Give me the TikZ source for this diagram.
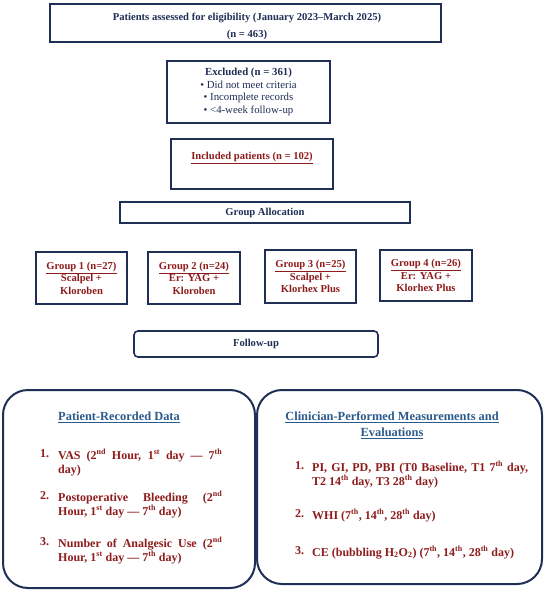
\documentclass[tikz,border=0pt]{standalone}
\usepackage{fontspec}
\setmainfont{Liberation Serif}
\usepackage{xcolor}
\usepackage{tikz}
\definecolor{cnavy}{HTML}{1F2F55}
\definecolor{cred}{HTML}{8E1C1C}
\definecolor{cblue}{HTML}{2B5B8C}

\begin{document}
\hyphenpenalty=10000
\begin{tikzpicture}[x=1pt, y=-1pt,
  box/.style={draw=cnavy, line width=1.6pt, fill=white, align=center, inner sep=0pt},
  panel/.style={box, line width=2pt, rounded corners=25pt},
  hd/.style={font=\fontsize{10.6}{17}\selectfont\bfseries, text=cnavy, align=center},
  grp/.style={font=\fontsize{10.6}{12.5}\selectfont\bfseries, text=cred, align=center},
  sub/.style={font=\fontsize{12.4}{16}\selectfont\bfseries, text=cblue, align=center},
  num/.style={font=\fontsize{12}{14}\selectfont\bfseries, text=cred, anchor=north west, inner sep=0pt},
  itm/.style={font=\fontsize{12}{14}\selectfont\bfseries, text=cred, anchor=north west, align=justify, inner sep=0pt}]
  \useasboundingbox (0,0) rectangle (550,593);
  % flow boxes, top to bottom
  \node[box, minimum width=391, minimum height=38] (assess) at (245.5,23) {};
  \node[hd] (assesstxt) at (247,26.5) {Patients assessed for eligibility (January 2023--March 2025)\\(n = 463)};
  \node[box, minimum width=163, minimum height=62, font=\fontsize{10.8}{12.7}\selectfont, text=cnavy] (excl) at (248.5,92) {\textbf{Excluded (n = 361)}\\• Did not meet criteria\\• Incomplete records\\• <4-week follow-up};
  \node[box, minimum width=162, minimum height=50] (incl) at (252,164) {};
  \node[font=\fontsize{10.6}{12}\selectfont\bfseries, text=cred] (incltxt) at (252,158) {\underline{Included patients (n = 102)}};
  \node[box, hd, minimum width=290, minimum height=21] (alloc) at (265,212.5) {Group Allocation};
  % groups
  \node[box, grp, minimum width=91, minimum height=52] (g1) at (81.5,278) {\underline{Group 1 (n=27)}\\Scalpel +\\Kloroben};
  \node[box, grp, minimum width=92, minimum height=52] (g2) at (194,278) {\underline{Group 2 (n=24)}\\Er: YAG +\\Kloroben};
  \node[box, grp, minimum width=91, minimum height=53] (g3) at (310.5,276.5) {\underline{Group 3 (n=25)}\\Scalpel +\\Klorhex Plus};
  \node[box, grp, minimum width=92, minimum height=51] (g4) at (426,275.5) {\underline{Group 4 (n=26)}\\Er: YAG +\\Klorhex Plus};
  \node[box, hd, rounded corners=4pt, minimum width=244, minimum height=26] (follow) at (256,344) {Follow-up};
  % outcome panels
  \node[panel, minimum width=252, minimum height=198] (patient) at (129,489) {};
  \node[panel, minimum width=285, minimum height=194] (clinic) at (399.5,487) {};
  \node[sub] (pathd) at (119,417) {\underline{Patient-Recorded Data}};
  \node[sub] (clihd) at (392,425) {\underline{Clinician-Performed Measurements and}\\\underline{Evaluations}};
  \node[num] (p1n) at (40,449) {1.};
  \node[itm, text width=164] (p1) at (58,449) {VAS (2\textsuperscript{nd} Hour, 1\textsuperscript{st} day --- 7\textsuperscript{th}\linebreak day)};
  \node[num] (p2n) at (40,491) {2.};
  \node[itm, text width=164] (p2) at (58,491) {Postoperative Bleeding (2\textsuperscript{nd}\linebreak Hour, 1\textsuperscript{st} day --- 7\textsuperscript{th} day)};
  \node[num] (p3n) at (40,537) {3.};
  \node[itm, text width=164] (p3) at (58,537) {Number of Analgesic Use (2\textsuperscript{nd}\linebreak Hour, 1\textsuperscript{st} day --- 7\textsuperscript{th} day)};
  \node[num] (c1n) at (295,461) {1.};
  \node[itm, text width=216] (c1) at (312,461) {PI, GI, PD, PBI (T0 Baseline, T1 7\textsuperscript{th} day,\linebreak T2 14\textsuperscript{th} day, T3 28\textsuperscript{th} day)};
  \node[num] (c2n) at (295,509) {2.};
  \node[itm, text width=216] (c2) at (312,509) {WHI (7\textsuperscript{th}, 14\textsuperscript{th}, 28\textsuperscript{th} day)};
  \node[num] (c3n) at (295,546) {3.};
  \node[itm, text width=216] (c3) at (312,546) {CE (bubbling H\textsubscript{2}O\textsubscript{2}) (7\textsuperscript{th}, 14\textsuperscript{th}, 28\textsuperscript{th} day)};
\end{tikzpicture}
\end{document}
